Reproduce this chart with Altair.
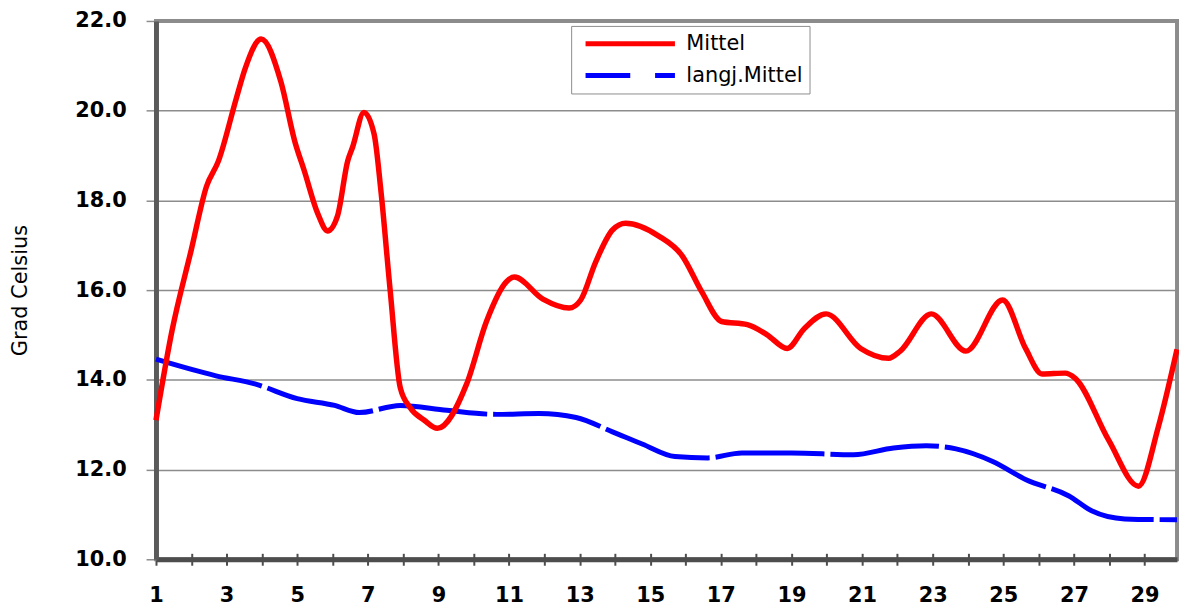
import altair as alt
import pandas as pd

# ---- data ----
series_names = ["Mittel", "langj.Mittel"]

red_days = [1.0, 1.45, 2.0, 2.43, 2.77, 3.28, 3.53, 3.98, 4.54, 4.93, 5.2, 5.58, 5.86,
            6.14, 6.43, 6.57, 6.89, 7.18, 7.37, 7.63, 7.92, 8.2, 8.6, 8.97, 9.8, 10.36,
            10.92, 11.15, 11.96, 12.7, 13.03, 13.45, 13.93, 14.3, 15.23, 15.9, 16.46,
            17.02, 17.75, 18.3, 18.88, 19.36, 19.98, 20.96, 21.75, 22.08, 22.96, 23.94,
            24.98, 25.63, 26.1, 26.75, 27.03, 27.98, 28.83, 29.39, 29.92]
red_temps = [13.10, 15.08, 16.9, 18.31, 18.88, 20.29, 20.95, 21.6, 20.64, 19.32, 18.66,
             17.71, 17.32, 17.65, 18.88, 19.19, 19.96, 19.47, 18.22, 16.02, 13.82, 13.38,
             13.10, 12.92, 13.91, 15.30, 16.18, 16.29, 15.80, 15.60, 15.78, 16.62, 17.34,
             17.49, 17.21, 16.77, 15.96, 15.30, 15.23, 15.01, 14.70, 15.14, 15.47, 14.70,
             14.48, 14.64, 15.47, 14.64, 15.78, 14.70, 14.13, 14.15, 14.04, 12.66, 11.63,
             12.95, 14.68]

blue_days = [1.0, 2.7, 3.8, 5.0, 6.06, 6.76, 7.92, 9.24, 10.64, 11.85, 12.9, 13.93,
             14.77, 15.7, 16.63, 17.59, 19.0, 20.76, 21.89, 22.82, 23.66, 24.7, 25.63,
             26.86, 27.5, 28.44, 29.92]
blue_temps = [14.46, 14.09, 13.91, 13.58, 13.43, 13.27, 13.43, 13.32, 13.23, 13.25, 13.16,
              12.84, 12.57, 12.29, 12.26, 12.37, 12.37, 12.33, 12.48, 12.53, 12.46, 12.18,
              11.78, 11.41, 11.08, 10.90, 10.88]

y_ticks = [10, 12, 14, 16, 18, 20, 22]
x_label_days = list(range(1, 30, 2))
x_tick_days = list(range(1, 30))

red_df = pd.DataFrame({"day": red_days, "temp": red_temps, "series": series_names[0]})
blue_df = pd.DataFrame({"day": blue_days, "temp": blue_temps, "series": series_names[1]})
all_df = pd.concat([red_df, blue_df], ignore_index=True)

FONT = "DejaVu Sans"

x_scale = alt.Scale(domain=[1, 29.92], nice=False, zero=False)
y_scale = alt.Scale(domain=[10, 22], nice=False, zero=False)
color_scale = alt.Scale(domain=series_names, range=["#ff0000", "#0000ff"])
dash_scale = alt.Scale(domain=series_names, range=[[1, 0], [45, 25]])

legend = alt.Legend(
    title=None, orient="none", legendX=418, legendY=5, direction="vertical",
    symbolType="stroke", symbolSize=8100, symbolStrokeWidth=5,
    clipHeight=24, rowPadding=8, padding=6, symbolOffset=6, labelOffset=9,
    labelFont=FONT, labelFontSize=21, labelColor="black",
    strokeColor="#8c8c8c", fillColor="white",
)

y_axis = alt.Axis(
    values=y_ticks, format=".1f", title="Grad Celsius",
    titleFont=FONT, titleFontSize=21, titleFontWeight="normal", titleColor="black",
    titlePadding=45,
    labelFont=FONT, labelFontWeight="bold", labelFontSize=21, labelColor="black",
    labelPadding=20, tickSize=10, tickColor="#8c8c8c", tickWidth=1.5,
    domainColor="#5a5a5a", domainWidth=5,
    grid=True, gridColor="#8c8c8c", gridWidth=1.5,
)

x_label_axis = alt.Axis(
    orient="bottom", values=x_label_days, format="d", title=None,
    labelFont=FONT, labelFontWeight="bold", labelFontSize=21, labelColor="black",
    labelPadding=26, ticks=False, tickSize=0, labelFlush=False, labelOverlap=False,
    domainColor="#4d4d4d", domainWidth=5, grid=False,
)

x_tick_axis = alt.Axis(
    orient="bottom", values=x_tick_days, labels=False, title=None, domain=False,
    ticks=True, tickSize=12, tickColor="#4d4d4d", tickWidth=2, offset=-6, grid=False,
)

Y = alt.Y("temp:Q", scale=y_scale, axis=y_axis)

red = alt.Chart(red_df).mark_line(strokeWidth=5.5, interpolate="monotone").encode(
    x=alt.X("day:Q", scale=x_scale, axis=x_label_axis),
    y=Y,
    color=alt.Color("series:N", scale=color_scale, legend=legend),
)

blue = alt.Chart(blue_df).mark_line(strokeWidth=5, interpolate="monotone",
                                    strokeDash=[110, 6]).encode(
    x=alt.X("day:Q", scale=x_scale, axis=x_tick_axis),
    y=Y,
    color=alt.Color("series:N", scale=color_scale, legend=legend),
)

legend_layer = alt.Chart(all_df).transform_filter("false").mark_line(strokeWidth=5).encode(
    x=alt.X("day:Q", scale=x_scale, axis=None),
    y=Y,
    color=alt.Color("series:N", scale=color_scale, legend=legend),
    strokeDash=alt.StrokeDash("series:N", scale=dash_scale, legend=legend),
)

chart = (
    alt.layer(blue, red, legend_layer)
    .resolve_axis(x="independent")
    .properties(
        width=1028, height=542,
        padding={"left": 149, "top": 11, "right": 2, "bottom": 45},
        autosize=alt.AutoSizeParams(type="none"),
        background="white",
    )
    .configure_view(stroke="#8c8c8c", strokeWidth=4)
)

chart.save("out.html", embed_options={"renderer": "svg", "actions": False})
